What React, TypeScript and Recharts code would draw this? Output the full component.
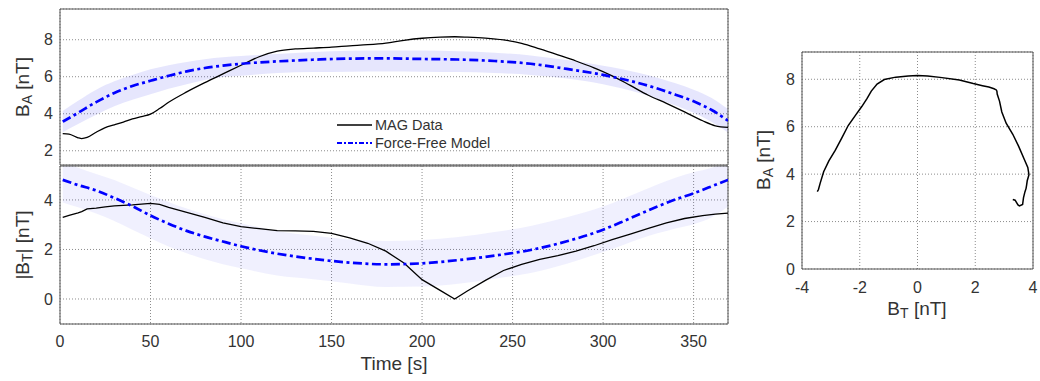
import React from 'react';
import { ComposedChart, LineChart, Line, Area, XAxis, YAxis, CartesianGrid, ReferenceArea } from 'recharts';

// MAG data (time in s, B_A and signed B_T in nT)
const timeMag = [1.5, 5, 10, 12, 15, 20, 25, 30, 35, 40, 45, 50, 55, 60, 70, 80, 90, 100, 110, 120, 130, 140, 150, 160, 170, 180, 190, 200, 210, 218, 225, 235, 245, 255, 265, 275, 285, 295, 305, 315, 325, 335, 345, 355, 362, 369];
const baMag = [2.93, 2.9, 2.7, 2.66, 2.72, 3.0, 3.25, 3.4, 3.55, 3.72, 3.85, 3.98, 4.28, 4.62, 5.18, 5.68, 6.15, 6.62, 7.08, 7.38, 7.5, 7.55, 7.6, 7.67, 7.73, 7.82, 7.97, 8.08, 8.14, 8.16, 8.14, 8.09, 7.99, 7.8, 7.5, 7.18, 6.85, 6.48, 6.05, 5.53, 5.0, 4.56, 4.1, 3.62, 3.35, 3.26];
const btMag = [3.3, 3.38, 3.48, 3.53, 3.64, 3.67, 3.72, 3.76, 3.78, 3.8, 3.83, 3.86, 3.82, 3.7, 3.5, 3.3, 3.07, 2.92, 2.84, 2.76, 2.75, 2.73, 2.65, 2.47, 2.25, 1.93, 1.45, 0.78, 0.35, 0, -0.32, -0.75, -1.15, -1.4, -1.6, -1.75, -1.93, -2.15, -2.4, -2.62, -2.85, -3.07, -3.25, -3.37, -3.43, -3.47];

// Force-free model and its spread
const timeModel = [1.5, 10, 20, 30, 40, 50, 60, 70, 80, 90, 100, 120, 140, 160, 180, 200, 220, 240, 260, 280, 300, 310, 320, 330, 340, 350, 360, 369];
const baModel = [3.57, 4.05, 4.63, 5.12, 5.5, 5.78, 6.05, 6.29, 6.47, 6.6, 6.7, 6.83, 6.92, 6.98, 6.99, 6.96, 6.93, 6.85, 6.7, 6.42, 6.1, 5.89, 5.65, 5.36, 5.03, 4.67, 4.2, 3.62];
const baModelHigh = [4.15, 4.7, 5.3, 5.75, 6.1, 6.4, 6.62, 6.8, 6.95, 7.05, 7.12, 7.23, 7.33, 7.4, 7.42, 7.42, 7.38, 7.3, 7.15, 6.9, 6.6, 6.42, 6.2, 5.95, 5.65, 5.3, 4.85, 4.25];
const baModelLow = [3.0, 3.45, 3.95, 4.4, 4.75, 5.05, 5.35, 5.6, 5.82, 5.98, 6.05, 6.2, 6.25, 6.27, 6.28, 6.27, 6.25, 6.2, 6.1, 5.9, 5.6, 5.38, 5.12, 4.8, 4.45, 4.05, 3.55, 2.98];
const btModel = [4.81, 4.6, 4.38, 4.08, 3.75, 3.37, 3.04, 2.75, 2.52, 2.32, 2.13, 1.83, 1.62, 1.47, 1.4, 1.44, 1.57, 1.75, 1.98, 2.33, 2.8, 3.1, 3.42, 3.73, 4.02, 4.27, 4.55, 4.81];
const btModelHigh = [5.55, 5.3, 5.05, 4.8, 4.5, 4.2, 3.92, 3.65, 3.42, 3.22, 3.06, 2.75, 2.55, 2.4, 2.34, 2.38, 2.5, 2.7, 2.95, 3.3, 3.73, 4.02, 4.32, 4.62, 4.9, 5.12, 5.3, 5.6];
const btModelLow = [3.9, 3.7, 3.45, 3.15, 2.8, 2.45, 2.12, 1.85, 1.6, 1.4, 1.24, 0.95, 0.8, 0.63, 0.48, 0.5, 0.62, 0.82, 1.05, 1.42, 1.9, 2.15, 2.42, 2.65, 2.85, 3.02, 3.3, 3.72];

const timeTicks = [0, 50, 100, 150, 200, 250, 300, 350];
const baTicks = [2, 4, 6, 8];
const btTicks = [0, 2, 4];
const hodoXTicks = [-4, -2, 0, 2, 4];
const hodoYTicks = [0, 2, 4, 6, 8];

const magRows = timeMag.map((t, i) => ({ t, ba: baMag[i], bt: Math.abs(btMag[i]) }));
const modelRows = timeModel.map((t, i) => ({
  t,
  ba: baModel[i],
  baBand: [baModelLow[i], baModelHigh[i]],
  bt: btModel[i],
  btBand: [btModelLow[i], btModelHigh[i]],
}));
const hodoRows = timeMag.map((_, i) => ({ bt: btMag[i], ba: baMag[i] }));

const FONT = '"Liberation Sans", Arial, Helvetica, sans-serif';
const TXT = '#333';
const FRAME = '#555';
const GRID = '#8c8c8c';
const tickStyle = { fontSize: 16, fill: TXT, fontFamily: FONT };

// axis title with a subscript, placed at fixed chart coords (rotated when vertical)
const axisTitle = (px: number, py: number, pre: string, sub: string, post: string, vertical: boolean) => () => (
  <text x={px} y={py} textAnchor="middle" dominantBaseline="central"
    transform={vertical ? `rotate(-90 ${px} ${py})` : undefined}
    fontSize={19} fill={TXT} fontFamily={FONT}>
    {pre}{sub ? <>B<tspan dy={5} fontSize={14}>{sub}</tspan><tspan dy={-5}>{post}</tspan></> : post}
  </text>
);

const App = () => {
  const W = 740;
  return (
    <div style={{ position: 'absolute', left: 0, top: 0, width: 1040, height: 381, background: '#fff' }}>
      {/* B_A vs time */}
      <div style={{ position: 'absolute', left: 0, top: 0 }}>
        <ComposedChart width={W} height={170} margin={{ top: 9, right: 12, bottom: 5, left: 0 }}>
          <CartesianGrid stroke={GRID} strokeDasharray="1 2" />
          <XAxis type="number" dataKey="t" domain={[0, 369]} ticks={timeTicks} allowDataOverflow
            tick={false} axisLine={false} tickLine={false} height={0} />
          <YAxis type="number" domain={[1.23, 9.66]} ticks={baTicks} allowDataOverflow width={60}
            tick={tickStyle} tickSize={0} tickMargin={7} axisLine={false} tickLine={false}
            label={{ content: axisTitle(22, 87, '', 'A', ' [nT]', true) }} />
          <Area data={modelRows} dataKey="baBand" type="monotone" stroke="none" fill="#3c3cf0" fillOpacity={0.13} isAnimationActive={false} />
          <Line data={magRows} dataKey="ba" type="monotone" stroke="#000" strokeWidth={1.3} dot={false} isAnimationActive={false} />
          <Line data={modelRows} dataKey="ba" type="monotone" stroke="#0000ff" strokeWidth={2.7} strokeDasharray="9 3.5 3 3.5" dot={false} isAnimationActive={false} />
          <ReferenceArea x1={0} x2={369} y1={1.23} y2={9.66} fill="none" stroke={FRAME} />
        </ComposedChart>
      </div>

      {/* |B_T| vs time */}
      <div style={{ position: 'absolute', left: 0, top: 160 }}>
        <ComposedChart width={W} height={221} margin={{ top: 6, right: 12, bottom: 0, left: 0 }}>
          <CartesianGrid stroke={GRID} strokeDasharray="1 2" />
          <XAxis type="number" dataKey="t" domain={[0, 369]} ticks={timeTicks} allowDataOverflow height={57}
            tick={tickStyle} tickSize={0} tickMargin={12} axisLine={false} tickLine={false}
            label={{ content: axisTitle(394, 203, '', '', 'Time [s]', false) }} />
          <YAxis type="number" domain={[-1.01, 5.37]} ticks={btTicks} allowDataOverflow width={60}
            tick={tickStyle} tickSize={0} tickMargin={7} axisLine={false} tickLine={false}
            label={{ content: axisTitle(22, 85, '|', 'T', '| [nT]', true) }} />
          <Area data={modelRows} dataKey="btBand" type="monotone" stroke="none" fill="#3c3cf0" fillOpacity={0.08} isAnimationActive={false} />
          <Line data={magRows} dataKey="bt" type="linear" stroke="#000" strokeWidth={1.3} dot={false} isAnimationActive={false} />
          <Line data={modelRows} dataKey="bt" type="monotone" stroke="#0000ff" strokeWidth={2.7} strokeDasharray="9 3.5 3 3.5" dot={false} isAnimationActive={false} />
          <ReferenceArea x1={0} x2={369} y1={-1.01} y2={5.37} fill="none" stroke={FRAME} />
        </ComposedChart>
      </div>

      {/* legend */}
      <svg style={{ position: 'absolute', left: 330, top: 112 }} width={190} height={42}>
        <line x1={7} y1={13} x2={42} y2={13} stroke="#000" strokeWidth={1.3} />
        <text x={45} y={13} dominantBaseline="central" fontSize={14.5} fill={TXT} fontFamily={FONT}>MAG Data</text>
        <line x1={7} y1={31} x2={42} y2={31} stroke="#0000ff" strokeWidth={2} strokeDasharray="5 2 2 2" />
        <text x={45} y={31} dominantBaseline="central" fontSize={14.5} fill={TXT} fontFamily={FONT}>Force-Free Model</text>
      </svg>

      {/* hodogram B_A vs B_T */}
      <div style={{ position: 'absolute', left: 740, top: 40 }}>
        <LineChart width={300} height={300} margin={{ top: 12, right: 7, bottom: 0, left: 0 }}>
          <CartesianGrid stroke={GRID} strokeDasharray="1 2" />
          <XAxis type="number" dataKey="bt" domain={[-4, 4]} ticks={hodoXTicks} allowDataOverflow height={71}
            tick={tickStyle} tickSize={0} tickMargin={13} axisLine={false} tickLine={false}
            label={{ content: axisTitle(177, 268, '', 'T', ' [nT]', false) }} />
          <YAxis type="number" domain={[0, 9.15]} ticks={hodoYTicks} allowDataOverflow width={62}
            tick={tickStyle} tickSize={0} tickMargin={7} axisLine={false} tickLine={false}
            label={{ content: axisTitle(23, 120, '', 'A', ' [nT]', true) }} />
          <Line data={hodoRows} dataKey="ba" type="linear" stroke="#000" strokeWidth={1.5} dot={false} isAnimationActive={false} />
          <ReferenceArea x1={-4} x2={4} y1={0} y2={9.15} fill="none" stroke={FRAME} />
        </LineChart>
      </div>
    </div>
  );
};

export default App;
